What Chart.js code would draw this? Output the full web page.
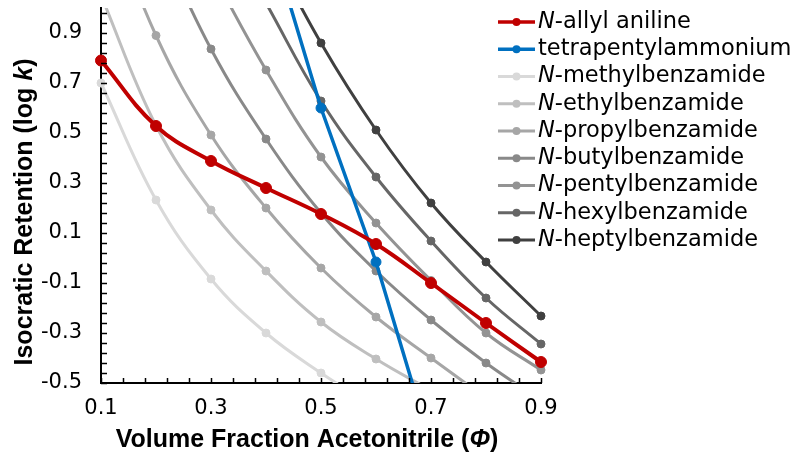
<!DOCTYPE html>
<html>
<head>
<meta charset="utf-8">
<script src="https://cdn.jsdelivr.net/npm/chart.js@4.4.1/dist/chart.umd.min.js"></script>
<style>
  html, body { margin: 0; padding: 0; background: #fff; }
  canvas { display: block; }
</style>
</head>
<body>
<canvas id="chart" width="800" height="462"></canvas>
<script>
// volume fraction of acetonitrile (x axis)
const phi = [0.1, 0.2, 0.3, 0.4, 0.5, 0.6, 0.7, 0.8, 0.9];

// log k; values above 1.0 or below -0.5 are estimates for the off-plot part
const allylAniline        = [0.79, 0.528, 0.388, 0.28, 0.176, 0.056, -0.10, -0.26, -0.416];
const tetrapentylammonium = [null, null, null, 1.33, 0.60, -0.016, -0.75, null, null];
const methylBenzamide     = [0.70, 0.232, -0.084, -0.30, -0.46, -0.60, null, null, null];
const ethylBenzamide      = [1.05, 0.53, 0.192, -0.052, -0.256, -0.404, -0.53, null, null];
const propylBenzamide     = [1.45, 0.89, 0.492, 0.20, -0.04, -0.236, -0.40, -0.56, null];
const butylBenzamide      = [null, 1.30, 0.836, 0.476, 0.18, -0.052, -0.248, -0.42, -0.57];
const pentylBenzamide     = [null, null, 1.15, 0.752, 0.404, 0.14, -0.09, -0.30, -0.448];
const hexylBenzamide      = [null, null, null, 1.02, 0.628, 0.324, 0.068, -0.16, -0.344];
const heptylBenzamide     = [null, null, null, 1.27, 0.86, 0.512, 0.22, -0.016, -0.232];

const seriesLabels = [
  'N-allyl aniline', 'tetrapentylammonium', 'N-methylbenzamide', 'N-ethylbenzamide',
  'N-propylbenzamide', 'N-butylbenzamide', 'N-pentylbenzamide', 'N-hexylbenzamide', 'N-heptylbenzamide'
];

const xTickLabels = [0.1, 0.3, 0.5, 0.7, 0.9];
const yTickLabels = [-0.5, -0.3, -0.1, 0.1, 0.3, 0.5, 0.7, 0.9];

const TICK_FONT = { family: 'DejaVu Sans', size: 21 };
const TITLE_FONT = "bold 25px 'Liberation Sans', Arial, sans-serif";

function series(label, values, color, width, radius, tension) {
  return {
    label,
    data: phi.map((x, i) => ({ x, y: values[i] })),
    borderColor: color,
    backgroundColor: color,
    pointBackgroundColor: color,
    pointBorderColor: color,
    pointBorderWidth: 1,
    borderWidth: width,
    pointRadius: radius,
    tension,
    clip: { left: 8, right: 8, top: 0, bottom: 0 }
  };
}

// inward minor ticks every 0.04, like the original axes
const axisTicks = {
  id: 'axisTicks',
  afterDraw(chart) {
    const { ctx, chartArea: a } = chart;
    const xs = chart.scales.x, ys = chart.scales.y;
    const step = 0.04;
    ctx.save();
    ctx.strokeStyle = '#000';
    ctx.lineWidth = 1.5;
    ctx.beginPath();
    for (let v = xs.min; v <= xs.max + 1e-9; v += step) {
      const px = Math.round(xs.getPixelForValue(v)) + 0.5;
      ctx.moveTo(px, a.bottom);
      ctx.lineTo(px, a.bottom - 5);
    }
    for (let v = ys.min; v <= ys.max + 1e-9; v += step) {
      const py = Math.round(ys.getPixelForValue(v)) + 0.5;
      ctx.moveTo(a.left, py);
      ctx.lineTo(a.left + 6, py);
    }
    ctx.stroke();
    ctx.restore();
  }
};

// draws mixed normal / italic text centred on cx
function drawParts(ctx, parts, cx, baseline) {
  let total = 0;
  parts.forEach(p => {
    ctx.font = p.italic ? TITLE_FONT.replace('bold', 'italic bold') : TITLE_FONT;
    p.w = ctx.measureText(p.t).width;
    total += p.w;
  });
  let x = cx - total / 2;
  parts.forEach(p => {
    ctx.font = p.italic ? TITLE_FONT.replace('bold', 'italic bold') : TITLE_FONT;
    ctx.fillText(p.t, x, baseline);
    x += p.w;
  });
}

const axisTitles = {
  id: 'axisTitles',
  afterDraw(chart) {
    const ctx = chart.ctx;
    ctx.save();
    ctx.fillStyle = '#000';
    ctx.textAlign = 'left';
    ctx.textBaseline = 'alphabetic';
    drawParts(ctx, [
      { t: 'Volume Fraction Acetonitrile (' },
      { t: 'Φ', italic: true },
      { t: ')' }
    ], 307, 447);
    ctx.translate(32, 212);
    ctx.rotate(-Math.PI / 2);
    drawParts(ctx, [
      { t: 'Isocratic Retention (log ' },
      { t: 'k', italic: true },
      { t: ')' }
    ], 0, 0);
    ctx.restore();
  }
};

const sideLegend = {
  id: 'sideLegend',
  afterDraw(chart) {
    const ctx = chart.ctx;
    const x0 = 498, x1 = 535, tx = 538, y0 = 22, dy = 27.25;
    ctx.save();
    ctx.textBaseline = 'middle';
    ctx.textAlign = 'left';
    chart.data.datasets.forEach((ds, i) => {
      const y = y0 + i * dy;
      ctx.strokeStyle = ds.borderColor;
      ctx.lineWidth = Math.min(ds.borderWidth, 3.5);
      ctx.beginPath();
      ctx.moveTo(x0, y);
      ctx.lineTo(x1, y);
      ctx.stroke();
      ctx.fillStyle = ds.borderColor;
      ctx.beginPath();
      ctx.arc((x0 + x1) / 2, y, 4, 0, Math.PI * 2);
      ctx.fill();
      ctx.fillStyle = '#000';
      let x = tx;
      let rest = ds.label;
      if (rest.startsWith('N-')) {
        ctx.font = "italic 22.5px 'DejaVu Sans'";
        ctx.fillText('N', x, y);
        x += ctx.measureText('N').width;
        rest = rest.slice(1);
      }
      ctx.font = "22.5px 'DejaVu Sans'";
      ctx.fillText(rest, x, y);
    });
    ctx.restore();
  }
};

new Chart(document.getElementById('chart'), {
  type: 'line',
  data: {
    datasets: [
      series(seriesLabels[0], allylAniline, '#c00000', 4, 5.5, 0.4),
      series(seriesLabels[1], tetrapentylammonium, '#0070c0', 3.5, 5, 0),
      series(seriesLabels[2], methylBenzamide, '#d9d9d9', 3, 4, 0.4),
      series(seriesLabels[3], ethylBenzamide, '#bfbfbf', 3, 4, 0.4),
      series(seriesLabels[4], propylBenzamide, '#a6a6a6', 3, 4, 0.4),
      series(seriesLabels[5], butylBenzamide, '#898989', 3, 4, 0.4),
      series(seriesLabels[6], pentylBenzamide, '#939393', 3, 4, 0.4),
      series(seriesLabels[7], hexylBenzamide, '#666666', 3, 4, 0.4),
      series(seriesLabels[8], heptylBenzamide, '#404040', 3, 4, 0.4)
    ]
  },
  options: {
    responsive: false,
    animation: false,
    devicePixelRatio: 1,
    layout: { padding: { left: 0, right: 259, top: 8, bottom: 0 } },
    plugins: { legend: { display: false }, tooltip: { enabled: false } },
    scales: {
      x: {
        type: 'linear',
        min: 0.1, max: 0.9,
        grid: { display: false, drawTicks: false },
        border: { display: true, color: '#000', width: 2 },
        ticks: { font: TICK_FONT, color: '#000', padding: 13, callback: v => Number(v).toFixed(1) },
        afterBuildTicks: s => { s.ticks = xTickLabels.map(v => ({ value: v })); },
        afterFit: s => { s.height = 79; s.paddingLeft = 0; s.paddingRight = 0; }
      },
      y: {
        min: -0.5, max: 1.0,
        grid: { display: false, drawTicks: false },
        border: { display: true, color: '#000', width: 2 },
        ticks: { font: TICK_FONT, color: '#000', padding: 19, callback: v => Number(v).toFixed(1) },
        afterBuildTicks: s => { s.ticks = yTickLabels.map(v => ({ value: v })); },
        afterFit: s => { s.width = 101; s.paddingTop = 0; s.paddingBottom = 0; }
      }
    }
  },
  plugins: [axisTicks, axisTitles, sideLegend]
});
</script>
</body>
</html>
